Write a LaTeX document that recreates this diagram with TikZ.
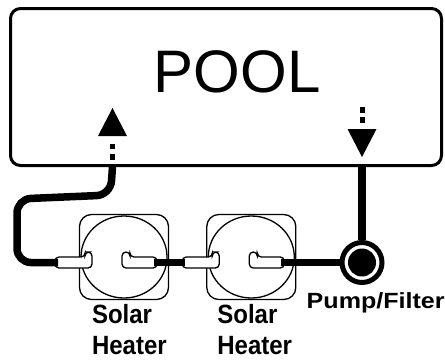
\documentclass[tikz,border=0pt]{standalone}
\usepackage{fontspec}
\setmainfont{Liberation Sans}
\usetikzlibrary{positioning,arrows.meta}

\tikzset{
  pipe/.style={line width=7.5pt},
  tank/.style={draw, line width=3pt, rounded corners=10pt, minimum width=431pt, minimum height=157pt},
  heater/.style={draw, line width=1.3pt, rounded corners=12pt, minimum width=89pt, minimum height=85pt, inner sep=0pt},
  tube/.style={fill=white, draw, line width=1.3pt, rounded corners=4pt},
  pumpring/.style={circle, draw, fill=white, line width=5pt, minimum size=40pt, inner sep=0pt},
  flow/.style={line width=5pt, -{Triangle[width=29pt,length=28pt,line width=0pt]}},
  capt/.style={font=\bfseries\fontsize{24}{28}\selectfont, align=left, inner sep=0pt, yscale=1.1},
}

\begin{document}
\begin{tikzpicture}[x=1pt,y=-1pt]
    \useasboundingbox (0,0) rectangle (445,360);

    %pool
    \node[tank] (pool) at (226,87) {};
    \node[font=\fontsize{60}{72}\selectfont, anchor=base] (title) at (237,92) {POOL};

    %flow arrows
    \coordinate (retfrom) at (112.5,160);
    \coordinate (retto) at (112.5,108);
    \coordinate (drawfrom) at (362,107);
    \coordinate (drawto) at (362,157);
    \draw[flow, dash pattern=on 6pt off 5pt on 5pt off 60pt] (retfrom) -- (retto);
    \draw[flow, dash pattern=on 6pt off 4pt on 6pt off 60pt] (drawfrom) -- (drawto);

    %heaters
    \node[heater] (h1) at (124,257) {};
    \node[heater, right=37pt of h1] (h2) {};
    \foreach \h in {h1,h2} {
        \draw[line width=1.3pt] (\h) ellipse [x radius=43pt, y radius=41pt];
        \begin{scope}[shift={(\h.center)}]
            \filldraw[tube] (-69,0) -- (-39,0) -- (-39,-5) -- (-32,-5) -- (-32,11) -- (-69,11) -- cycle;
            \filldraw[tube] (-2,-5) -- (6,-5) -- (6,0) -- (33,0) -- (33,11) -- (-2,11) -- cycle;
            \coordinate (\h-in) at (-66,5.5);
            \coordinate (\h-out) at (30,5.5);
        \end{scope}
    }

    %pump
    \node[pumpring] (pump) at (362,262.5) {};
    \fill (pump) circle [radius=14pt];

    %pipes
    \draw[pipe, rounded corners=14pt] (pool.south -| retfrom) -- (110.5,195) -- (17,199) -- (17,262.5) -- (h1-in);
    \draw[pipe] (h1-out) -- (h2-in);
    \draw[pipe] (h2-out) -- (pump);
    \draw[pipe] (pool.south -| pump) -- (pump);

    %labels
    \node[capt, below right=4pt and 13pt of h1.south west] (h1cap) {Solar\\Heater};
    \node[capt, below right=4pt and 11pt of h2.south west] (h2cap) {Solar\\Heater};
    \node[font=\bfseries\fontsize{22}{26}\selectfont, inner sep=0pt, xscale=1.14, below=7pt of pump, xshift=12pt] (pumpcap) {Pump/Filter};
\end{tikzpicture}
\end{document}
